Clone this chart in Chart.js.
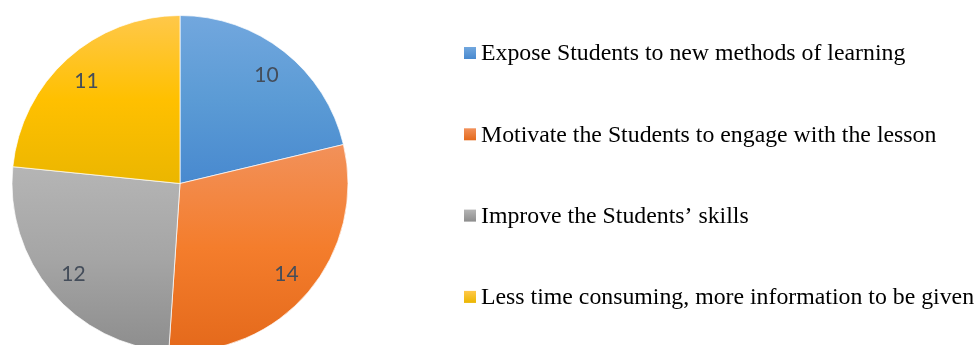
<!DOCTYPE html>
<html>
<head>
<meta charset="utf-8">
<title>Pie</title>
<script src="https://cdn.jsdelivr.net/npm/chart.js@4/dist/chart.umd.min.js"></script>
<style>
  html, body { margin: 0; padding: 0; background: #fff; overflow: hidden; }
  #wrap { position: relative; width: 979px; height: 345px; }
</style>
</head>
<body>
<div id="wrap"><canvas id="pieChart" width="979" height="345"></canvas></div>
<script>
// ---- data ----
const categories = [
  'Expose Students to new methods of learning',
  'Motivate the Students to engage with the lesson',
  'Improve the Students\u2019 skills',
  'Less time consuming, more information to be given'
];
const counts = [10, 14, 12, 11];

// light / base / dark stops for each slice
const sliceShades = [
  ['#72a7de', '#5b9bd5', '#4889cf'],
  ['#f2915a', '#f47d2c', '#e4691b'],
  ['#b5b5b5', '#a5a5a5', '#8d8d8d'],
  ['#ffc84a', '#ffc000', '#ebb600']
];

const PIE_RADIUS = 168;

// vertical gradient spanning the slice's own top..bottom
function sliceFill(context) {
  const chart = context.chart;
  const area = chart.chartArea;
  const shades = sliceShades[context.dataIndex];
  if (!area) return shades[1];
  const cx = (area.left + area.right) / 2;
  const cy = (area.top + area.bottom) / 2;
  const values = context.dataset.data;
  const total = values.reduce((a, b) => a + b, 0);
  let before = 0;
  for (let i = 0; i < context.dataIndex; i++) before += values[i];
  const a0 = before / total * Math.PI * 2;
  const a1 = (before + values[context.dataIndex]) / total * Math.PI * 2;
  const ys = [cy, cy - PIE_RADIUS * Math.cos(a0), cy - PIE_RADIUS * Math.cos(a1)];
  if (a0 <= 0) ys.push(cy - PIE_RADIUS);
  if (a0 < Math.PI && a1 > Math.PI) ys.push(cy + PIE_RADIUS);
  const top = Math.min(...ys), bottom = Math.max(...ys);
  const g = chart.ctx.createLinearGradient(0, top, 0, bottom);
  g.addColorStop(0, shades[0]);
  g.addColorStop(0.5, shades[1]);
  g.addColorStop(1, shades[2]);
  return g;
}

// numbers inside each slice
const sliceLabels = {
  id: 'sliceLabels',
  afterDatasetsDraw(chart) {
    const { ctx } = chart;
    const meta = chart.getDatasetMeta(0);
    ctx.save();
    ctx.font = '21px Lato, "Open Sans", sans-serif';
    ctx.fillStyle = '#444d5a';
    ctx.textAlign = 'center';
    ctx.textBaseline = 'middle';
    meta.data.forEach((arc, i) => {
      const p = arc.getProps(['x', 'y', 'startAngle', 'endAngle', 'outerRadius'], true);
      const mid = (p.startAngle + p.endAngle) / 2;
      const d = p.outerRadius * 0.83;
      ctx.fillText(String(counts[i]), p.x + Math.cos(mid) * d, p.y + Math.sin(mid) * d + 1);
    });
    ctx.restore();
  }
};

// legend list on the right
const sideLegend = {
  id: 'sideLegend',
  afterDraw(chart) {
    const { ctx } = chart;
    const x = 464, firstY = 53, step = 81.3, box = 12;
    ctx.save();
    ctx.font = '23.8px "Liberation Serif", "Times New Roman", serif';
    ctx.textBaseline = 'middle';
    chart.data.labels.forEach((label, i) => {
      const y = firstY + i * step;
      const g = ctx.createLinearGradient(0, y - box / 2, 0, y + box / 2);
      g.addColorStop(0, sliceShades[i][0]);
      g.addColorStop(1, sliceShades[i][2]);
      ctx.fillStyle = g;
      ctx.fillRect(x, y - box / 2, box, box);
      ctx.fillStyle = '#000';
      ctx.fillText(label, x + 17, y + 1);
    });
    ctx.restore();
  }
};

new Chart(document.getElementById('pieChart'), {
  type: 'pie',
  data: {
    labels: categories,
    datasets: [{
      data: counts,
      backgroundColor: sliceFill,
      borderColor: 'rgba(255,255,255,0.7)',
      borderWidth: 1
    }]
  },
  options: {
    responsive: false,
    animation: false,
    radius: PIE_RADIUS,
    layout: { padding: { left: 0, right: 619, top: 22, bottom: 0 } },
    plugins: {
      legend: { display: false },
      tooltip: { enabled: false }
    }
  },
  plugins: [sliceLabels, sideLegend]
});
</script>
</body>
</html>
